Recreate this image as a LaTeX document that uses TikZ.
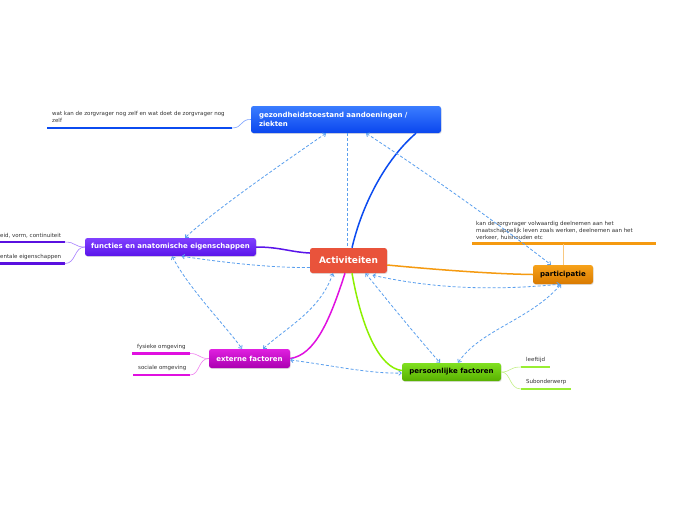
\documentclass[tikz,border=0pt]{standalone}
\usepackage{fontspec}
\setmainfont{DejaVu Sans}
\usetikzlibrary{arrows.meta,shadows}
\definecolor{gzTop}{HTML}{3B7DFF}
\definecolor{gzBot}{HTML}{0A46EE}
\definecolor{gzLine}{HTML}{0B4BF0}
\definecolor{gzLight}{HTML}{7AA0FF}
\definecolor{actC}{HTML}{E9533B}
\definecolor{funTop}{HTML}{8040FF}
\definecolor{funBot}{HTML}{5A14EA}
\definecolor{funLine}{HTML}{5A10E0}
\definecolor{funLight}{HTML}{A880FF}
\definecolor{parTop}{HTML}{F7A21A}
\definecolor{parBot}{HTML}{D97A00}
\definecolor{parLine}{HTML}{F59A10}
\definecolor{parLight}{HTML}{F8C880}
\definecolor{extTop}{HTML}{E020E0}
\definecolor{extBot}{HTML}{AA00B0}
\definecolor{extLine}{HTML}{E010E0}
\definecolor{extLight}{HTML}{F080F0}
\definecolor{perTop}{HTML}{80E020}
\definecolor{perBot}{HTML}{58B000}
\definecolor{perLine}{HTML}{99EE33}
\definecolor{perMain}{HTML}{8CF000}
\definecolor{perLight}{HTML}{C4F088}
\definecolor{dashC}{HTML}{5A9FEE}
\definecolor{noteC}{HTML}{333333}
\begin{document}
\begin{tikzpicture}[x=1pt,y=-1pt,
  box/.style={rounded corners=2.5pt, inner sep=0pt, align=center,
    font=\bfseries\fontsize{7}{8.5}\selectfont,
    drop shadow={opacity=0.25,shadow xshift=0.6pt,shadow yshift=-0.9pt}},
  note/.style={inner sep=0pt, align=left, text=noteC,
    font=\fontsize{5.5}{7}\selectfont},
  uline/.style={line width=2.5pt},
  rel/.style={dashC, line width=0.8pt, dash pattern=on 3pt off 2pt},
  both/.style={{Straight Barb[length=2.5pt,width=4.5pt]}-{Straight Barb[length=2.5pt,width=4.5pt]}},
  main/.style={line width=1.5pt},
  thin/.style={line width=0.6pt}]
\useasboundingbox[fill=white] (0,0) rectangle (696,520);

% main topics
\node[box, top color=gzTop, bottom color=gzBot, text=white,
  minimum width=190pt, minimum height=27pt, text width=174pt, align=left]
  (gez) at (346,119.5) {gezondheidstoestand aandoeningen /\\ziekten};
\node[box, fill=actC, text=white, minimum width=77pt, minimum height=25pt,
  font=\bfseries\fontsize{9}{10}\selectfont] (act) at (348.5,260.5) {Activiteiten};
\node[box, top color=funTop, bottom color=funBot, text=white,
  minimum width=171pt, minimum height=18pt] (fun) at (170.5,247) {functies en anatomische eigenschappen};
\node[box, top color=parTop, bottom color=parBot, text=black,
  minimum width=60pt, minimum height=19pt] (par) at (563,274.5) {participatie};
\node[box, top color=extTop, bottom color=extBot, text=white,
  minimum width=81pt, minimum height=19pt] (ext) at (249.5,358.5) {externe factoren};
\node[box, top color=perTop, bottom color=perBot, text=black,
  minimum width=99pt, minimum height=18pt] (per) at (451.5,372) {persoonlijke factoren};

% notes / subtopics
\node[note, anchor=north west] (n1) at (52,111.5) {wat kan de zorgvrager nog zelf en wat doet de zorgvrager nog\\zelf};
\coordinate (n1a) at (47,128); \coordinate (n1b) at (232,128);
\draw[uline, gzLine] (n1a) -- (n1b);
\draw[thin, gzLight] (n1b) .. controls (243,128) and (240,119) .. (gez.west);

\node[note, anchor=north west] (n2) at (476,221) {kan de zorgvrager volwaardig deelnemen aan het\\maatschappelijk leven zoals werken, deelnemen aan het\\verkeer, huishouden etc};
\coordinate (n2a) at (472,243.5); \coordinate (n2b) at (656,243.5); \coordinate (n2c) at (563,243.5);
\draw[uline, parLine] (n2a) -- (n2b);
\draw[thin, parLight] (n2c) -- (par.north);

\node[note, anchor=south west] (f1) at (0,238) {eid, vorm, continuiteit};
\coordinate (f1a) at (0,242); \coordinate (f1b) at (65,242);
\draw[uline, funLine] (f1a) -- (f1b);
\node[note, anchor=south west] (f2) at (0,260) {entale eigenschappen};
\coordinate (f2a) at (0,263.5); \coordinate (f2b) at (65,263.5);
\draw[uline, funLine] (f2a) -- (f2b);
\draw[thin, funLight] (f1b) .. controls (76,242) and (74,247) .. (fun.west);
\draw[thin, funLight] (f2b) .. controls (76,263.5) and (74,247) .. (fun.west);

\node[note, anchor=south west] (e1) at (137,349.5) {fysieke omgeving};
\coordinate (e1a) at (132,353.5); \coordinate (e1b) at (190,353.5);
\draw[uline, extLine] (e1a) -- (e1b);
\node[note, anchor=south west] (e2) at (138,371) {sociale omgeving};
\coordinate (e2a) at (133,375); \coordinate (e2b) at (190,375);
\draw[uline, extLine] (e2a) -- (e2b);
\draw[thin, extLight] (e1b) .. controls (200,353.5) and (198,358.5) .. (ext.west);
\draw[thin, extLight] (e2b) .. controls (200,375) and (198,358.5) .. (ext.west);

\node[note, anchor=south west] (p1) at (526,362.5) {leeftijd};
\coordinate (p1a) at (521,367); \coordinate (p1b) at (550,367);
\draw[uline, perLine] (p1a) -- (p1b);
\node[note, anchor=south west] (p2) at (526,384.5) {Subonderwerp};
\coordinate (p2a) at (521,389); \coordinate (p2b) at (571,389);
\draw[uline, perLine] (p2a) -- (p2b);
\draw[thin, perLight] (per.east) .. controls (511,372) and (509,367) .. (p1a);
\draw[thin, perLight] (per.east) .. controls (511,372) and (509,389) .. (p2a);

% main connectors
\draw[main, gzLine] ([xshift=3.5pt]act.north) .. controls (362,205) and (385,160) .. ([xshift=70pt]gez.south);
\draw[main, funBot] ([yshift=7.5pt]act.west) .. controls (290,252) and (280,247) .. (fun.east);
\draw[main, parLine] ([yshift=-4.5pt]act.east) .. controls (440,270) and (495,274) .. (par.west);
\draw[main, extLine] ([xshift=-3.5pt]act.south) .. controls (330,320) and (315,355) .. (ext.east);
\draw[main, perMain] ([xshift=3.5pt]act.south) .. controls (362,330) and (380,368) .. ([yshift=1.5pt]per.west);

% relationship (dashed) connectors
\draw[rel, both] ([xshift=-20pt]gez.south) .. controls (280,165) and (215,210) .. ([xshift=14.5pt]fun.north);
\draw[rel] ([xshift=1.5pt]gez.south) -- ([xshift=-1pt]act.north);
\draw[rel, both] ([xshift=20pt]gez.south) .. controls (430,175) and (500,225) .. ([xshift=-12pt]par.north);
\draw[rel, -{Straight Barb[length=2.5pt,width=4.5pt]}] ([yshift=-7pt]act.west) .. controls (270,268) and (220,262) .. ([xshift=11pt]fun.south);
\draw[rel, both] ([xshift=1.5pt]fun.south) .. controls (190,290) and (225,325) .. ([xshift=-7.5pt]ext.north);
\draw[rel, both] ([xshift=13.5pt]ext.north) .. controls (290,325) and (320,310) .. ([xshift=-15.5pt]act.south);
\draw[rel, both] ([xshift=17pt]act.south) .. controls (395,310) and (420,340) .. ([xshift=-11.5pt]per.north);
\draw[rel, both] ([xshift=24pt,yshift=-2pt]act.south) .. controls (440,290) and (500,290) .. ([xshift=-3pt]par.south);
\draw[rel, both] ([xshift=6.5pt]per.north) .. controls (480,330) and (530,320) .. ([xshift=-2pt]par.south);
\draw[rel, both] ([yshift=-1.5pt]ext.east) .. controls (330,365) and (370,374) .. ([yshift=-1pt]per.west);
\end{tikzpicture}
\end{document}
